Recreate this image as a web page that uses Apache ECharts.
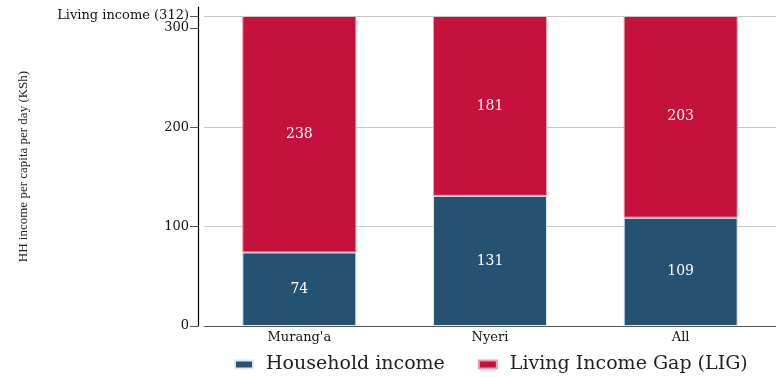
<!DOCTYPE html>
<html>
<head>
<meta charset="utf-8">
<script src="https://cdn.jsdelivr.net/npm/echarts@6/dist/echarts.min.js"></script>
<style>
  html, body { margin: 0; padding: 0; background: #fff; }
  #chart { width: 776px; height: 377px; }
</style>
</head>
<body>
<div id="chart"></div>
<script>
const regions = ["Murang'a", 'Nyeri', 'All']
const householdIncome = [74, 131, 109]
const incomeGap = [238, 181, 203]
const livingIncome = 312
const yTicks = [0, 100, 200, 300]
const yMax = 321

const serif = 'DejaVu Serif'
const narrowSerif = 'Liberation Serif'
const blue = '#255173'
const red = '#C5123D'

const mChart = echarts.init(document.getElementById('chart'))

const valueLabel = {
    show: true,
    position: 'inside',
    color: '#fff',
    fontSize: 14,
    fontFamily: serif
}

const option = {
    animation: false,
    textStyle: { fontFamily: serif },
    grid: {
        left: 204,
        right: -4,
        top: 7,
        bottom: 51
    },
    legend: {
        top: 350,
        left: 229,
        itemWidth: 18,
        itemHeight: 8,
        itemGap: 33,
        icon: 'rect',
        textStyle: { fontFamily: serif, fontSize: 19, color: '#222', padding: [0, 0, 0, 8] },
        data: ['Household income', 'Living Income Gap (LIG)']
    },
    xAxis: {
        type: 'category',
        data: regions,
        axisLine: { show: true, lineStyle: { color: '#555', width: 1 } },
        axisTick: { show: false },
        axisLabel: { color: '#111', fontSize: 13, fontFamily: serif, margin: 5 }
    },
    yAxis: [
        {
            type: 'value',
            min: 0,
            max: yMax,
            interval: 100,
            offset: 6,
            name: 'HH income per capita per day (KSh)',
            nameLocation: 'middle',
            nameGap: 168,
            nameTextStyle: { fontFamily: narrowSerif, fontSize: 13, color: '#222' },
            axisLine: { show: true, lineStyle: { color: '#000', width: 1.2 } },
            axisTick: { show: true, length: 8, customValues: yTicks, lineStyle: { color: '#555' } },
            axisLabel: { color: '#111', fontSize: 13, fontFamily: serif, margin: 9, customValues: yTicks },
            splitLine: { show: true, showMaxLine: false, lineStyle: { color: '#c8c8c8', width: 1 } }
        },
        {
            // second axis only for the living income tick and label
            type: 'value',
            min: 0,
            max: yMax,
            position: 'left',
            offset: 6,
            axisLine: { show: false },
            axisTick: { show: true, length: 8, customValues: [livingIncome], lineStyle: { color: '#555' } },
            axisLabel: {
                color: '#111',
                fontSize: 13,
                fontFamily: serif,
                margin: 9,
                customValues: [livingIncome],
                formatter: () => `Living income (${livingIncome})`
            },
            splitLine: { show: false }
        }
    ],
    series: [
        {
            name: 'Household income',
            type: 'bar',
            stack: 'total',
            barWidth: 114,
            data: householdIncome,
            itemStyle: { color: blue, borderColor: '#dfe8f0', borderWidth: 1 },
            label: valueLabel
        },
        {
            name: 'Living Income Gap (LIG)',
            type: 'bar',
            stack: 'total',
            barWidth: 114,
            data: incomeGap,
            itemStyle: { color: red, borderColor: '#f09aae', borderWidth: 1 },
            label: valueLabel,
            markLine: {
                silent: true,
                symbol: 'none',
                label: { show: false },
                lineStyle: { color: '#c8c8c8', type: 'solid', width: 1 },
                data: [{ yAxis: livingIncome }]
            }
        }
    ]
}

mChart.setOption(option)
</script>
</body>
</html>
